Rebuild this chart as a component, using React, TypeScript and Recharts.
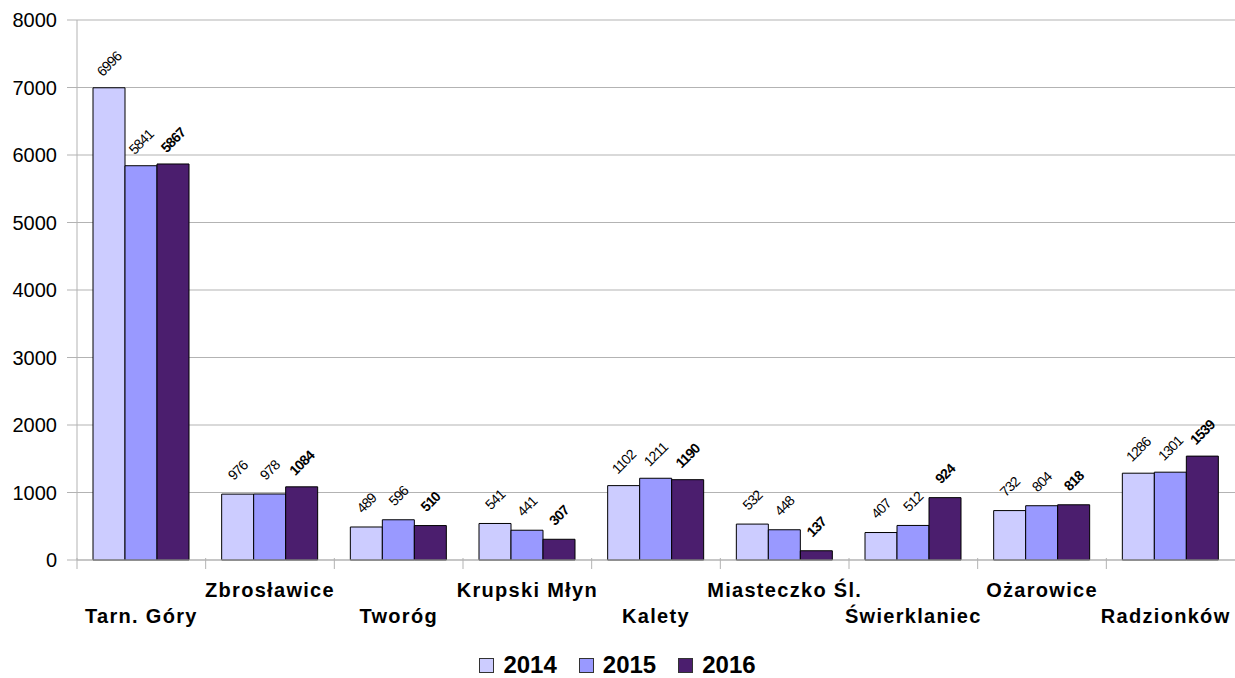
import { BarChart, Bar, XAxis, YAxis, CartesianGrid, LabelList } from "recharts";

const places = ["Tarn. Góry", "Zbrosławice", "Tworóg", "Krupski Młyn", "Kalety", "Miasteczko Śl.", "Świerklaniec", "Ożarowice", "Radzionków"];
const y2014 = [6996, 976, 489, 541, 1102, 532, 407, 732, 1286];
const y2015 = [5841, 978, 596, 441, 1211, 448, 512, 804, 1301];
const y2016 = [5867, 1084, 510, 307, 1190, 137, 924, 818, 1539];
const yTicks = [0, 1000, 2000, 3000, 4000, 5000, 6000, 7000, 8000];

const series = [
    { key: "y2014", name: "2014", color: "#ccccff", bold: false },
    { key: "y2015", name: "2015", color: "#9999ff", bold: false },
    { key: "y2016", name: "2016", color: "#4b1e6e", bold: true },
];

const data = places.map((p, i) => ({ place: p, y2014: y2014[i], y2015: y2015[i], y2016: y2016[i] }));

const FONT = "'Liberation Sans', Arial, sans-serif";
const BAND = (1235 - 77) / places.length;

// rotated value label above each bar
const valueLabel = (bold: boolean) => (props: any) => {
    const { x, y, width, value } = props;
    const cx = x + width / 2;
    const cy = y - 24;
    return (
        <text
            x={cx}
            y={cy}
            textAnchor="middle"
            dominantBaseline="central"
            transform={`rotate(-45 ${cx} ${cy})`}
            fontSize={14}
            fontWeight={bold ? "bold" : "normal"}
            letterSpacing={-0.8}
            fill="#000"
            fontFamily={FONT}
        >
            {value}
        </text>
    );
};

// category label, staggered on two lines, tick mark at the band boundary
const CategoryTick = (props: any) => {
    const { x, y, payload, index } = props;
    const left = x - BAND / 2;
    const ly = index % 2 === 0 ? 623 : 597;
    // keep the last label inside the picture
    const tx = index === places.length - 1 ? x - 5 : x;
    return (
        <g>
            <line x1={left} y1={y - 10} x2={left} y2={y + 1} stroke="#b3b3b3" />
            <text x={tx} y={ly} textAnchor="middle" fontSize={20} fontWeight="bold" letterSpacing={1.3} fill="#000" fontFamily={FONT}>
                {payload.value}
            </text>
        </g>
    );
};

const LegendBox = () => (
    <div style={{ position: "absolute", left: 0, top: 650, width: 1235, display: "flex", justifyContent: "center", alignItems: "center", gap: 22, fontFamily: FONT }}>
        {series.map((s) => (
            <div key={s.key} style={{ display: "flex", alignItems: "center", gap: 9 }}>
                <div style={{ width: 13, height: 13, background: s.color, border: "1px solid #333" }} />
                <span style={{ fontSize: 24, fontWeight: "bold", color: "#000", lineHeight: "30px" }}>{s.name}</span>
            </div>
        ))}
    </div>
);

export default function App() {
    return (
        <div style={{ position: "absolute", left: 0, top: 0, width: 1235, height: 678, background: "#fff" }}>
            <BarChart
                width={1235}
                height={678}
                data={data}
                margin={{ top: 20, right: 0, bottom: 0, left: 0 }}
                barCategoryGap={16}
                barGap={0}
            >
                <CartesianGrid vertical={false} stroke="#b3b3b3" />
                <XAxis
                    dataKey="place"
                    axisLine={{ stroke: "#b3b3b3" }}
                    tickLine={false}
                    tick={<CategoryTick />}
                    interval={0}
                    height={118}
                />
                <YAxis
                    domain={[0, 8000]}
                    ticks={yTicks}
                    width={77}
                    axisLine={{ stroke: "#b3b3b3" }}
                    tickLine={{ stroke: "#b3b3b3" }}
                    tickSize={10}
                    tickMargin={10}
                    tick={{ fontSize: 20, fill: "#000", fontFamily: FONT }}
                />
                {series.map((s) => (
                    <Bar key={s.key} dataKey={s.key} name={s.name} fill={s.color} stroke="#000" strokeWidth={1} isAnimationActive={false}>
                        <LabelList dataKey={s.key} content={valueLabel(s.bold)} />
                    </Bar>
                ))}
            </BarChart>
            <LegendBox />
        </div>
    );
}
